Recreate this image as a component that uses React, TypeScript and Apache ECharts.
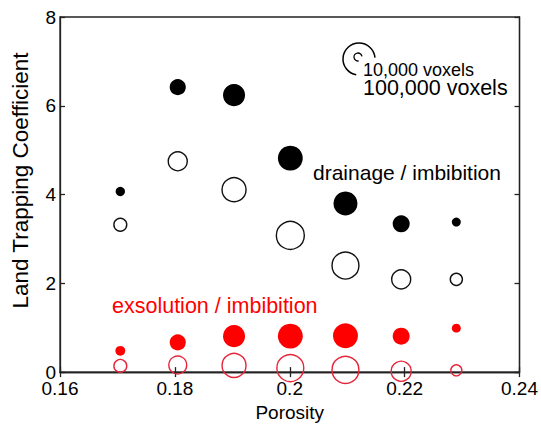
import React, { useEffect, useRef } from "react";
import * as echarts from "echarts";

// Porosity of each sample
const porosity = [0.1705, 0.1805, 0.1903, 0.2001, 0.2097, 0.2194, 0.229];

// Land trapping coefficients
const drainageFilled = [4.07, 6.42, 6.24, 4.82, 3.8, 3.34, 3.38];
const drainageOpen = [3.32, 4.75, 4.11, 3.08, 2.4, 2.09, 2.09];
const exsolutionFilled = [0.48, 0.67, 0.81, 0.81, 0.82, 0.81, 0.99];
const exsolutionOpen = [0.14, 0.16, 0.15, 0.09, 0.05, 0.02, 0.04];

// Sample size (thousands of voxels)
const drainageFilledVoxK = [13, 32, 54, 66, 62, 35, 12];
const drainageOpenVoxK = [22, 42, 62, 80, 75, 42, 20];
const exsolutionFilledVoxK = [14, 32, 54, 66, 66, 35, 12];
const exsolutionOpenVoxK = [22, 38, 62, 75, 75, 46, 17];

const xTicks = { min: 0.16, max: 0.24, interval: 0.02 };
const yTicks = { min: 0, max: 8, interval: 2 };

const FONT = 'Arial, "Liberation Sans", Helvetica, sans-serif';

const voxToDiameter = (vk: number) => 8 * Math.pow(vk / 10, 0.602);

const build = (ys: number[], vox: number[]) =>
  porosity.map((x, i) => [x, ys[i], vox[i]]);

export default function App() {
  const ref = useRef<HTMLDivElement>(null);
  useEffect(() => {
    if (!ref.current) return;
    const chart = echarts.init(ref.current, undefined, { renderer: "svg" });
    const axisLine = { lineStyle: { color: "#222", width: 1.3 } };
    const tick = { inside: true, length: 5, lineStyle: { color: "#222", width: 1.3 } };
    const sizeFn = (v: number[]) => voxToDiameter(v[2]);
    chart.setOption({
      animation: false,
      backgroundColor: "#fff",
      grid: {
        left: 60,
        right: 21,
        top: 17,
        bottom: 46,
        show: true,
        borderColor: "#222",
        borderWidth: 1.3,
      },
      xAxis: [
        {
          type: "value",
          ...xTicks,
          position: "bottom",
          axisLine,
          axisTick: tick,
          splitLine: { show: false },
          axisLabel: { color: "#000", fontSize: 19, fontFamily: FONT, margin: 7 },
          name: "Porosity",
          nameLocation: "middle",
          nameGap: 23,
          nameTextStyle: { color: "#000", fontSize: 19, fontFamily: FONT },
        },
        {
          type: "value",
          ...xTicks,
          position: "top",
          axisLine,
          axisTick: tick,
          splitLine: { show: false },
          axisLabel: { show: false },
        },
      ],
      yAxis: [
        {
          type: "value",
          ...yTicks,
          position: "left",
          axisLine: { show: true, ...axisLine },
          axisTick: { show: true, ...tick },
          splitLine: { show: false },
          axisLabel: { color: "#000", fontSize: 19, fontFamily: FONT, margin: 4 },
          name: "Land Trapping Coefficient",
          nameLocation: "middle",
          nameGap: 28,
          nameTextStyle: { color: "#000", fontSize: 22.5, fontFamily: FONT, padding: [0, 0, 0, 28] },
        },
        {
          type: "value",
          ...yTicks,
          position: "right",
          axisLine: { show: true, ...axisLine },
          axisTick: { show: true, ...tick },
          splitLine: { show: false },
          axisLabel: { show: false },
        },
      ],
      series: [
        {
          name: "drainage filled",
          type: "scatter",
          data: build(drainageFilled, drainageFilledVoxK),
          symbolSize: sizeFn,
          itemStyle: { color: "#000", opacity: 1 },
        },
        {
          name: "drainage open",
          type: "scatter",
          data: build(drainageOpen, drainageOpenVoxK),
          symbolSize: sizeFn,
          itemStyle: { color: "#fff", borderColor: "#111", borderWidth: 1.4, opacity: 1 },
        },
        {
          name: "exsolution filled",
          type: "scatter",
          data: build(exsolutionFilled, exsolutionFilledVoxK),
          symbolSize: sizeFn,
          itemStyle: { color: "#ff0000", opacity: 1 },
        },
        {
          name: "exsolution open",
          type: "scatter",
          data: build(exsolutionOpen, exsolutionOpenVoxK),
          symbolSize: sizeFn,
          itemStyle: { color: "rgba(255,255,255,0)", borderColor: "#e5263a", borderWidth: 1.4, opacity: 1 },
        },
      ],
      graphic: [
        {
          type: "arc",
          shape: { cx: 359, cy: 59, r: 16, startAngle: (100 * Math.PI) / 180, endAngle: (355 * Math.PI) / 180, clockwise: true },
          style: { stroke: "#000", lineWidth: 1.5, fill: null },
        },
        {
          type: "arc",
          shape: { cx: 358, cy: 57, r: 4, startAngle: (80 * Math.PI) / 180, endAngle: (350 * Math.PI) / 180, clockwise: true },
          style: { stroke: "#000", lineWidth: 1.3, fill: null },
        },
        {
          type: "text",
          style: { x: 363, y: 69.5, text: "10,000 voxels", fontSize: 18, fontFamily: FONT, fill: "#000", verticalAlign: "middle", align: "left" },
        },
        {
          type: "text",
          style: { x: 363, y: 88, text: "100,000 voxels", fontSize: 21.5, fontFamily: FONT, fill: "#000", verticalAlign: "middle", align: "left" },
        },
        {
          type: "text",
          style: { x: 313, y: 172, text: "drainage / imbibition", fontSize: 21, fontFamily: FONT, fill: "#000", verticalAlign: "middle", align: "left" },
        },
        {
          type: "text",
          style: { x: 112, y: 306, text: "exsolution / imbibition", fontSize: 21.5, fontFamily: FONT, fill: "#ff0000", verticalAlign: "middle", align: "left" },
        },
      ],
    });
    return () => chart.dispose();
  }, []);
  return (
    <div
      ref={ref}
      style={{ position: "absolute", left: 0, top: 0, width: 541, height: 427 }}
    />
  );
}
